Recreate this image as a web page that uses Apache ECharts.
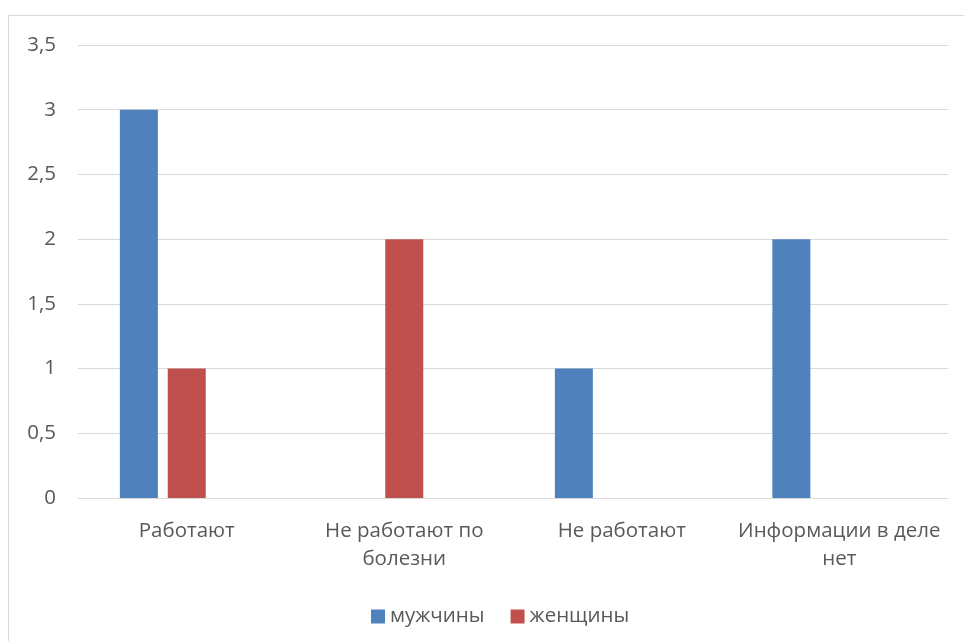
<!DOCTYPE html>
<html><head><meta charset="utf-8">
<script src="https://cdn.jsdelivr.net/npm/echarts@6/dist/echarts.min.js"></script>
<style>html,body{margin:0;padding:0;background:#fff}#c{width:964px;height:641px}</style>
</head><body><div id="c"></div>
<script>
const categories = ['Работают', 'Не работают по\nболезни', 'Не работают', 'Информации в деле\nнет'];
const men = [3, 0, 1, 2];
const women = [1, 2, 0, 0];
const third = [null, null, null, null];
const yTicks = {min: 0, max: 3.5, interval: 0.5};

const font = '"Open Sans", sans-serif';
const chart = echarts.init(document.getElementById('c'));
chart.setOption({
  backgroundColor: '#fff',
  animation: false,
  graphic: [{type: 'rect', shape: {x: 8.5, y: 15.5, width: 1000, height: 700},
    style: {fill: 'none', stroke: '#D9D9D9', lineWidth: 1}, silent: true}],
  grid: {left: 78, right: 16, top: 45, bottom: 143},
  legend: {data: ['мужчины', 'женщины'], left: 366, top: 601, itemWidth: 14, itemHeight: 14,
    itemGap: 26, icon: 'rect',
    textStyle: {fontFamily: font, fontSize: 20.5, color: '#595959', padding: [0,0,0,0]}},
  xAxis: {type: 'category', data: categories,
    axisLine: {lineStyle: {color: '#D9D9D9', width: 1}}, axisTick: {show: false},
    axisLabel: {fontFamily: font, fontSize: 20.5, color: '#595959', margin: 19, lineHeight: 28, interval: 0}},
  yAxis: {type: 'value', min: yTicks.min, max: yTicks.max, interval: yTicks.interval,
    axisLine: {show: false}, axisTick: {show: false},
    splitLine: {lineStyle: {color: '#D9D9D9', width: 1}},
    axisLabel: {fontFamily: font, fontSize: 20.5, color: '#595959', margin: 22,
      formatter: v => String(v).replace('.', ',')}},
  series: [
    {name: 'мужчины', type: 'bar', data: men, barWidth: 38, barGap: '26%', itemStyle: {color: '#4F81BD'}},
    {name: 'женщины', type: 'bar', data: women, barWidth: 38, barGap: '26%', itemStyle: {color: '#C0504D'}},
    {name: 'other', type: 'bar', data: third, barWidth: 38, barGap: '26%', itemStyle: {color: '#9BBB59'}}
  ]
});
</script></body></html>
